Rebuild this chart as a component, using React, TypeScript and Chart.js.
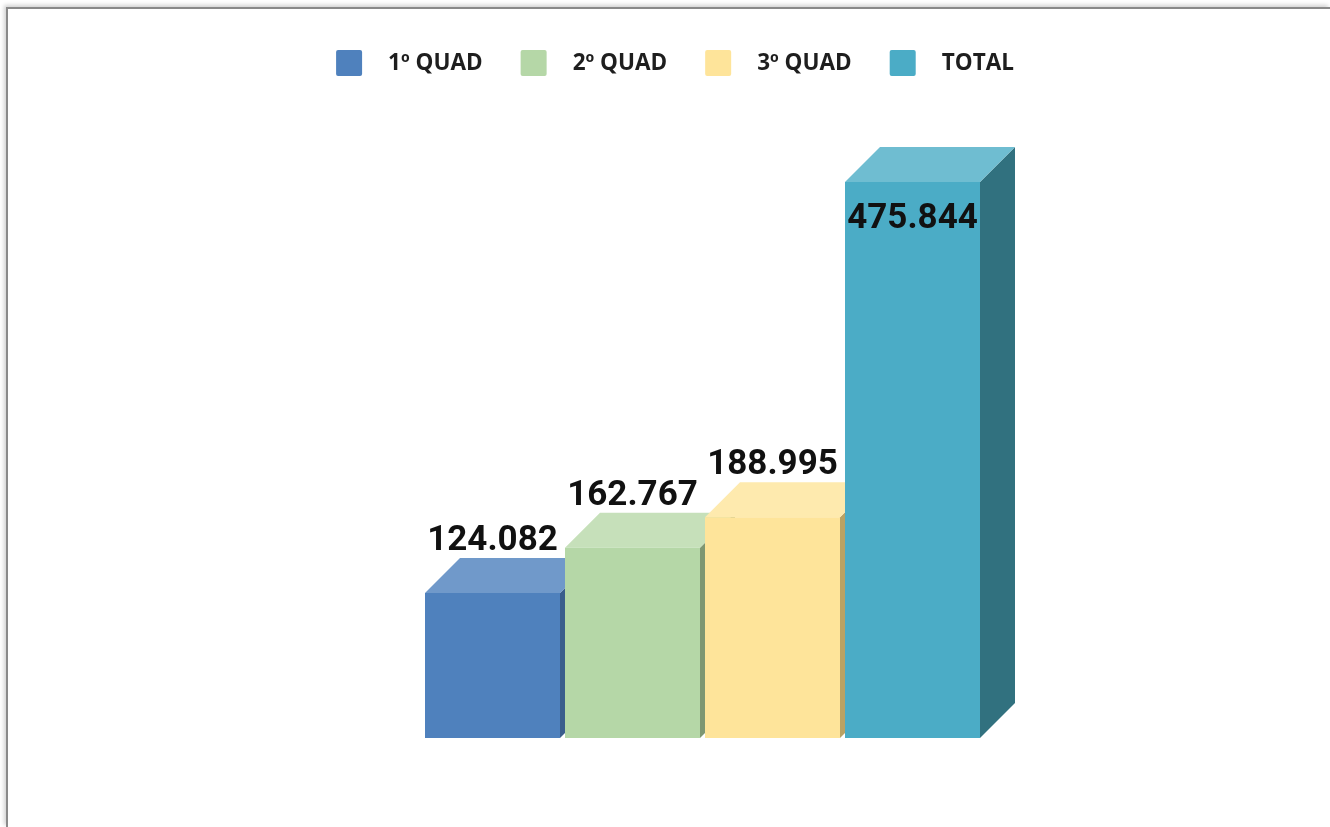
import React, { useEffect, useRef } from "react";
import { Chart, registerables } from "chart.js";

Chart.register(...registerables);

const categories = [""];
const seriesLabels = ["1º QUAD", "2º QUAD", "3º QUAD", "TOTAL"];
const seriesValues = [124082, 162767, 188995, 475844];
const frontColors = ["#4F81BD", "#B5D7A7", "#FEE49A", "#4BACC6"];
const topColors = ["#7099CA", "#C6E0BA", "#FEEAAE", "#6FBDD1"];
const sideColors = ["#3A5E8C", "#7E9772", "#B9A264", "#31717F"];
const yMax = 500000;

const DEPTH = 35;

function fmt(v: number): string {
  const s = String(Math.round(v));
  return s.replace(/\B(?=(\d{3})+(?!\d))/g, ".");
}

const threeD = {
  id: "threeD",
  beforeDatasetsDraw(chart: any) {
    const ctx = chart.ctx;
    ctx.save();
    chart.data.datasets.forEach((ds: any, i: number) => {
      const meta = chart.getDatasetMeta(i);
      meta.data.forEach((bar: any) => {
        const { x, y, base, width } = bar.getProps(["x", "y", "base", "width"], true);
        const l = x - width / 2;
        const r = x + width / 2;
        const d = DEPTH;
        ctx.fillStyle = sideColors[i];
        ctx.beginPath();
        ctx.moveTo(r, y);
        ctx.lineTo(r + d, y - d);
        ctx.lineTo(r + d, base - d);
        ctx.lineTo(r, base);
        ctx.closePath();
        ctx.fill();
        ctx.fillStyle = topColors[i];
        ctx.beginPath();
        ctx.moveTo(l, y);
        ctx.lineTo(l + d, y - d);
        ctx.lineTo(r + d, y - d);
        ctx.lineTo(r, y);
        ctx.closePath();
        ctx.fill();
      });
    });
    ctx.restore();
  },
  afterDatasetsDraw(chart: any) {
    const ctx = chart.ctx;
    ctx.save();
    ctx.font = "bold 35px Roboto";
    ctx.fillStyle = "#111111";
    ctx.textAlign = "center";
    ctx.textBaseline = "alphabetic";
    chart.data.datasets.forEach((ds: any, i: number) => {
      const meta = chart.getDatasetMeta(i);
      meta.data.forEach((bar: any, j: number) => {
        const { x, y } = bar.getProps(["x", "y"], true);
        const text = fmt(ds.data[j]);
        let by = y - DEPTH - 8;
        if (by - 30 < chart.chartArea.top) by = y + 46;
        ctx.fillText(text, x, by);
      });
    });
    ctx.restore();
  },
  afterDraw(chart: any) {
    const ctx = chart.ctx;
    ctx.save();
    ctx.font = "bold 22.5px 'Open Sans'";
    const box = 26;
    const gap = 26;
    const spacing = 38;
    const widths = seriesLabels.map((t) => box + gap + ctx.measureText(t).width);
    const total = widths.reduce((a, b) => a + b, 0) + spacing * (widths.length - 1);
    let x = 675 - total / 2;
    const boxTop = 50;
    seriesLabels.forEach((t, i) => {
      ctx.fillStyle = frontColors[i];
      ctx.beginPath();
      (ctx as any).roundRect(x, boxTop, box, box, 2);
      ctx.fill();
      ctx.fillStyle = "#1e1e1e";
      ctx.textBaseline = "alphabetic";
      ctx.textAlign = "left";
      ctx.fillText(t, x + box + gap, 70);
      x += widths[i] + spacing;
    });
    ctx.restore();
  },
};

export default function App() {
  const ref = useRef<HTMLCanvasElement | null>(null);
  useEffect(() => {
    if (!ref.current) return;
    const chart = new Chart(ref.current, {
      type: "bar",
      data: {
        labels: categories,
        datasets: seriesLabels.map((label, i) => ({
          label,
          data: [seriesValues[i]],
          backgroundColor: frontColors[i],
          borderWidth: 0,
          barPercentage: 135 / 140,
          categoryPercentage: 1,
        })),
      },
      options: {
        responsive: false,
        animation: false,
        layout: {
          padding: { left: 422.5, right: 347.5, top: 153.8, bottom: 89 },
        },
        scales: {
          x: { display: false },
          y: { display: false, min: 0, max: yMax },
        },
        plugins: {
          legend: { display: false },
          tooltip: { enabled: false },
        },
      },
      plugins: [threeD],
    });
    return () => chart.destroy();
  }, []);
  return (
    <div>
      <div
        style={{
          position: "fixed",
          left: 6,
          top: 7,
          width: 1324,
          height: 820,
          boxSizing: "border-box",
          borderLeft: "2px solid #8a8a8a",
          borderTop: "2px solid #8a8a8a",
          boxShadow: "-2px -2px 4px rgba(0,0,0,0.18)",
          background: "#ffffff",
        }}
      />
      <canvas
        ref={ref}
        width={1330}
        height={827}
        style={{ position: "fixed", left: 0, top: 0, width: 1330, height: 827 }}
      />
    </div>
  );
}
